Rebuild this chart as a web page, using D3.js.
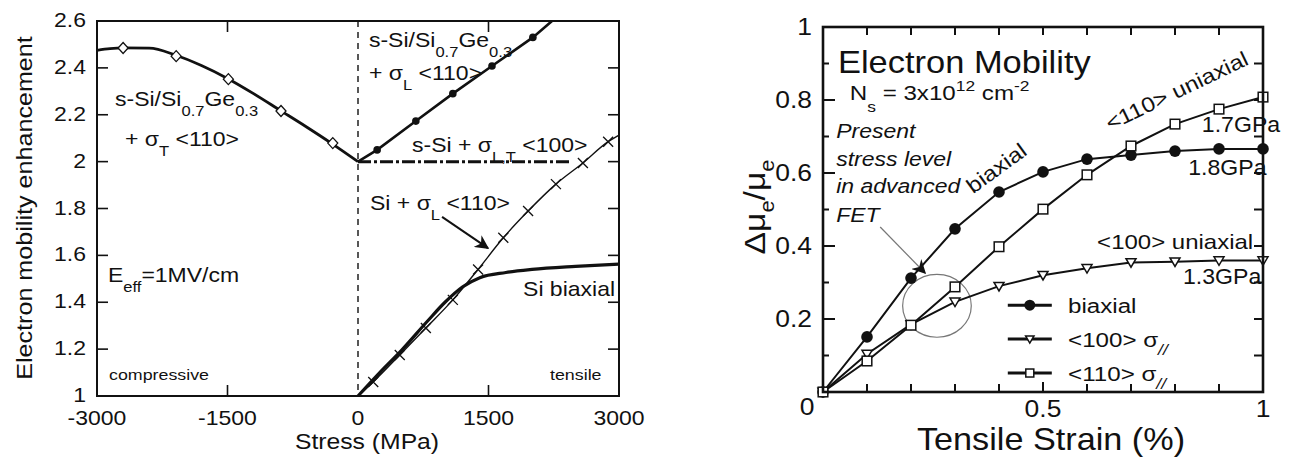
<!DOCTYPE html>
<html><head><meta charset="utf-8">
<script src="https://cdn.jsdelivr.net/npm/d3@7"></script>
<style>
body{margin:0;background:#fff}
svg{display:block}
text{font-family:"Liberation Sans",Arial,Helvetica,sans-serif;fill:#111}
</style>
</head><body>
<svg id="c" width="1293" height="457"></svg>
<script>
// ---------------- LEFT CHART DATA ----------------
const L_xTicks = [-3000, -1500, 0, 1500, 3000];
const L_yTicks = [1, 1.2, 1.4, 1.6, 1.8, 2, 2.2, 2.4, 2.6];
// s-Si/Si0.7Ge0.3 + sigma_T <110>
const sigT_x = [-3000, -2850, -2700, -2400, -2100, -1800, -1500, -1200, -900, -600, -300, 0];
const sigT_y = [2.475, 2.482, 2.485, 2.484, 2.455, 2.41, 2.355, 2.29, 2.22, 2.15, 2.077, 2.0];
const sigT_mx = [-2700, -2090, -1490, -885, -290];
const sigT_my = [2.485, 2.45, 2.352, 2.216, 2.079];
// s-Si/Si0.7Ge0.3 + sigma_L <110>
const sigL_x = [0, 220, 665, 1090, 1540, 2010, 2230];
const sigL_y = [2.0, 2.05, 2.173, 2.29, 2.408, 2.53, 2.6];
const sigL_mx = [220, 665, 1090, 1540, 2010];
const sigL_my = [2.05, 2.173, 2.29, 2.408, 2.53];
// s-Si + sigma_L,T <100>
const sLT_x = [0, 2440];
const sLT_y = [2.0, 2.0];
// Si + sigma_L <110>
const siL_x = [0, 175, 480, 780, 1090, 1380, 1670, 1955, 2275, 2585, 2875, 3000];
const siL_y = [1, 1.06, 1.175, 1.29, 1.41, 1.54, 1.675, 1.789, 1.904, 1.994, 2.085, 2.113];
const siL_mx = [175, 480, 780, 1090, 1380, 1670, 1955, 2275, 2585, 2875];
const siL_my = [1.06, 1.175, 1.29, 1.41, 1.54, 1.675, 1.789, 1.904, 1.994, 2.085];
// Si biaxial
const siB_x = [0, 250, 500, 800, 1000, 1200, 1400, 1700, 2000, 2500, 3000];
const siB_y = [1, 1.1, 1.195, 1.32, 1.4, 1.465, 1.505, 1.527, 1.54, 1.553, 1.563];

// ---------------- RIGHT CHART DATA ----------------
const R_x = [0, 0.1, 0.2, 0.3, 0.4, 0.5, 0.6, 0.7, 0.8, 0.9, 1.0];
const R_biaxial = [0, 0.151, 0.312, 0.447, 0.548, 0.603, 0.638, 0.649, 0.66, 0.666, 0.666];
const R_u100 = [0, 0.104, 0.185, 0.247, 0.29, 0.32, 0.339, 0.355, 0.357, 0.36, 0.36];
const R_u110 = [0, 0.085, 0.183, 0.288, 0.398, 0.501, 0.595, 0.674, 0.734, 0.775, 0.808];
const R_xTickLabels = [0, 0.5, 1];
const R_yTickLabels = [0, 0.2, 0.4, 0.6, 0.8, 1];
const R_minorTicks = [0, 0.1, 0.2, 0.3, 0.4, 0.5, 0.6, 0.7, 0.8, 0.9, 1.0];

const SX = 1.15;
const svg = d3.select('#c');

function rich(g, x, y, segs, o) {
  const t = g.append('text')
    .attr('transform', `translate(${x},${y}) rotate(${o.rot || 0}) scale(${o.sx || SX},1)`)
    .attr('font-size', o.fs)
    .attr('text-anchor', o.anchor || 'start')
    .attr('font-style', o.it ? 'italic' : null);
  let cur = 0;
  segs.forEach(s => {
    if (typeof s === 'string') s = {t: s};
    const fs = (s.sub || s.sup) ? o.fs * (s.scale || 0.72) : o.fs;
    const target = s.sub ? o.fs * (s.dy || 0.5) : s.sup ? -o.fs * (s.dy || 0.45) : 0;
    t.append('tspan').attr('font-size', fs).attr('dy', target - cur)
      .attr('font-style', s.it ? 'italic' : null).text(s.t);
    cur = target;
  });
  return t;
}

svg.append('defs').append('marker').attr('id', 'arr')
  .attr('viewBox', '0 0 10 10').attr('refX', 9).attr('refY', 5)
  .attr('markerWidth', 14).attr('markerHeight', 14).attr('markerUnits', 'userSpaceOnUse')
  .attr('orient', 'auto')
  .append('path').attr('d', 'M0,0L10,5L0,10L3,5Z').attr('fill', '#111');

// ================= LEFT CHART =================
{
  const x = d3.scaleLinear().domain([-3000, 3000]).range([97, 619]);
  const y = d3.scaleLinear().domain([1, 2.6]).range([396, 21]);
  const g = svg.append('g');
  const line = (xs, ys) => d3.line().x((d, i) => x(xs[i])).y((d, i) => y(ys[i]))(xs);
  const sm = (xs, ys) => d3.line().curve(d3.curveMonotoneX).x((d, i) => x(xs[i])).y((d, i) => y(ys[i]))(xs);

  // ticks (inward)
  const tk = g.append('g').attr('stroke', '#111').attr('stroke-width', 1.6);
  L_yTicks.slice(1, -1).forEach(v => {
    tk.append('line').attr('x1', x(-3000)).attr('x2', x(-3000) + 11).attr('y1', y(v)).attr('y2', y(v));
    tk.append('line').attr('x1', x(3000)).attr('x2', x(3000) - 11).attr('y1', y(v)).attr('y2', y(v));
  });
  [-1500, 1500].forEach(v => {
    tk.append('line').attr('x1', x(v)).attr('x2', x(v)).attr('y1', y(1)).attr('y2', y(1) - 11);
    tk.append('line').attr('x1', x(v)).attr('x2', x(v)).attr('y1', y(2.6)).attr('y2', y(2.6) + 11);
  });
  // dashed zero line
  g.append('line').attr('x1', x(0)).attr('x2', x(0)).attr('y1', y(2.6)).attr('y2', y(1))
    .attr('stroke', '#111').attr('stroke-width', 1.4).attr('stroke-dasharray', '6,5');

  // series
  g.append('path').attr('d', sm(siB_x, siB_y)).attr('fill', 'none').attr('stroke', '#111').attr('stroke-width', 3.2);
  g.append('path').attr('d', sm(siL_x, siL_y)).attr('fill', 'none').attr('stroke', '#111').attr('stroke-width', 1.4);
  g.append('path').attr('d', sm(sigT_x, sigT_y)).attr('fill', 'none').attr('stroke', '#111').attr('stroke-width', 2.8);
  g.append('path').attr('d', line(sigL_x, sigL_y)).attr('fill', 'none').attr('stroke', '#111').attr('stroke-width', 2.6);
  g.append('path').attr('d', line(sLT_x, sLT_y)).attr('fill', 'none').attr('stroke', '#111').attr('stroke-width', 3)
    .attr('stroke-dasharray', '13,3,3,3');

  // markers
  sigT_mx.forEach((v, i) => {
    g.append('path').attr('transform', `translate(${x(v)},${y(sigT_my[i])})`)
      .attr('d', 'M0,-5.5L5,0L0,5.5L-5,0Z').attr('fill', '#fff').attr('stroke', '#111').attr('stroke-width', 1.3);
  });
  sigL_mx.forEach((v, i) => {
    g.append('circle').attr('cx', x(v)).attr('cy', y(sigL_my[i])).attr('r', 3.8).attr('fill', '#111');
  });
  siL_mx.forEach((v, i) => {
    g.append('path').attr('transform', `translate(${x(v)},${y(siL_my[i])})`)
      .attr('d', 'M-5,-5L5,5M-5,5L5,-5').attr('stroke', '#111').attr('stroke-width', 1.3);
  });

  // frame
  g.append('rect').attr('x', x(-3000)).attr('y', y(2.6)).attr('width', x(3000) - x(-3000)).attr('height', y(1) - y(2.6))
    .attr('fill', 'none').attr('stroke', '#111').attr('stroke-width', 2);

  // tick labels
  L_xTicks.forEach(v => rich(g, x(v), 425, [String(v)], {fs: 20, anchor: 'middle'}));
  L_yTicks.forEach(v => rich(g, 86, y(v) + 6, [String(+v.toFixed(1))], {fs: 20, anchor: 'end'}));

  // axis titles
  rich(g, 32, 208, ['Electron mobility enhancement'], {fs: 21.5, anchor: 'middle', rot: -90, sx: 1.17});
  rich(g, 367, 449, ['Stress (MPa)'], {fs: 21.5, anchor: 'middle', sx: 1.15});

  // annotations
  rich(g, x(-2793), y(2.237), ['s-Si/Si', {t: '0.7', sub: 1}, 'Ge', {t: '0.3', sub: 1}], {fs: 20});
  rich(g, x(-2678), y(2.067), ['+ σ', {t: 'T', sub: 1}, ' <110>'], {fs: 20});
  rich(g, x(126), y(2.489), ['s-Si/Si', {t: '0.7', sub: 1}, 'Ge', {t: '0.3', sub: 1}], {fs: 20});
  rich(g, x(126), y(2.348), ['+ σ', {t: 'L', sub: 1}, ' <110>'], {fs: 20});
  rich(g, x(621), y(2.041), ['s-Si + σ', {t: 'L,T', sub: 1}, ' <100>'], {fs: 20});
  rich(g, x(138), y(1.794), ['Si + σ', {t: 'L', sub: 1}, ' <110>'], {fs: 20});
  rich(g, x(1897), y(1.427), ['Si biaxial'], {fs: 20});
  rich(g, x(-2874), y(1.486), ['E', {t: 'eff', sub: 1}, '=1MV/cm'], {fs: 20});
  rich(g, x(-2862), y(1.068), ['compressive'], {fs: 15.5});
  rich(g, x(2207), y(1.068), ['tensile'], {fs: 15.5});
  g.append('line').attr('x1', x(966)).attr('y1', y(1.764)).attr('x2', x(1494)).attr('y2', y(1.631))
    .attr('stroke', '#111').attr('stroke-width', 2).attr('marker-end', 'url(#arr)');
}

// ================= RIGHT CHART =================
{
  const x = d3.scaleLinear().domain([0, 1]).range([823, 1263]);
  const y = d3.scaleLinear().domain([0, 1]).range([392, 27]);
  const g = svg.append('g');
  const ln = ys => d3.line().x((d, i) => x(R_x[i])).y((d, i) => y(ys[i]))(R_x);

  const tk = g.append('g').attr('stroke', '#111').attr('stroke-width', 2);
  R_minorTicks.slice(1, -1).forEach((v, i) => {
    const major = (i % 2) === 1;
    tk.append('line').attr('x1', x(0)).attr('x2', x(0) + (major ? 12 : 6)).attr('y1', y(v)).attr('y2', y(v));
    tk.append('line').attr('x1', x(1)).attr('x2', x(1) - 9).attr('y1', y(v)).attr('y2', y(v));
    tk.append('line').attr('x1', x(v)).attr('x2', x(v)).attr('y1', y(0)).attr('y2', y(0) - (i === 4 ? 10 : 8));
    tk.append('line').attr('x1', x(v)).attr('x2', x(v)).attr('y1', y(1)).attr('y2', y(1) + 8);
  });

  // ellipse + pointer
  g.append('ellipse').attr('cx', x(0.259)).attr('cy', y(0.236))
    .attr('rx', x(0.078) - x(0)).attr('ry', y(0) - y(0.086))
    .attr('fill', 'none').attr('stroke', '#777').attr('stroke-width', 1.2);
  g.append('line').attr('x1', x(0.13)).attr('y1', y(0.452)).attr('x2', x(0.232)).attr('y2', y(0.326))
    .attr('stroke', '#777').attr('stroke-width', 1.2).attr('marker-end', 'url(#arr)');

  // lines
  [R_biaxial, R_u100, R_u110].forEach(s => {
    g.append('path').attr('d', ln(s)).attr('fill', 'none').attr('stroke', '#111').attr('stroke-width', 2);
  });
  const circ = (gg, cx, cy, r) => gg.append('circle').attr('cx', cx).attr('cy', cy).attr('r', r).attr('fill', '#111');
  const tri = (gg, cx, cy, s) => gg.append('path').attr('transform', `translate(${cx},${cy})`)
    .attr('d', `M${-s},${-s * 0.75}L${s},${-s * 0.75}L0,${s * 0.95}Z`).attr('fill', '#fff').attr('stroke', '#111').attr('stroke-width', 1.5);
  const sq = (gg, cx, cy, s) => gg.append('rect').attr('x', cx - s).attr('y', cy - s).attr('width', 2 * s).attr('height', 2 * s)
    .attr('fill', '#fff').attr('stroke', '#111').attr('stroke-width', 1.5);
  R_x.forEach((v, i) => circ(g, x(v), y(R_biaxial[i]), 5.8));
  R_x.forEach((v, i) => tri(g, x(v), y(R_u100[i]), 5));
  R_x.forEach((v, i) => sq(g, x(v), y(R_u110[i]), 4.8));

  // frame
  g.append('rect').attr('x', x(0)).attr('y', y(1)).attr('width', x(1) - x(0)).attr('height', y(0) - y(1))
    .attr('fill', 'none').attr('stroke', '#111').attr('stroke-width', 2.6);

  // tick labels
  R_yTickLabels.forEach(v => { if (v !== 0) rich(g, 812, y(v) + 8, [String(v)], {fs: 23, anchor: 'end'}); });
  rich(g, 807, 415, ['0'], {fs: 23, anchor: 'middle'});
  R_xTickLabels.forEach(v => { if (v !== 0) rich(g, x(v), 417, [String(v)], {fs: 23, anchor: 'middle'}); });

  // axis titles
  rich(g, 1051, 450, ['Tensile Strain (%)'], {fs: 32, anchor: 'middle', sx: 1.07});
  rich(g, 765, 207, ['Δμ', {t: 'e', sub: 1, dy: 0.3, scale: 0.65}, {t: '/μ', dy: 0}, {t: 'e', sub: 1, dy: 0.3, scale: 0.65}],
    {fs: 30, anchor: 'middle', rot: -90, sx: 1.12});

  // annotations
  rich(g, x(0.034), y(0.874), ['Electron Mobility'], {fs: 30.5, sx: 1.13});
  rich(g, x(0.061), y(0.8), ['N', {t: 's', sub: 1, dy: 0.55}, ' = 3x10', {t: '12', sup: 1, dy: 0.42}, ' cm', {t: '-2', sup: 1, dy: 0.42}], {fs: 21});
  ['Present', 'stress level', 'in advanced', 'FET'].forEach((s, i) =>
    rich(g, x(0.03), y([0.696, 0.619, 0.545, 0.466][i]), [s], {fs: 19.5, it: true, sx: 1.18}));
  rich(g, x(0.341), y(0.542), ['biaxial'], {fs: 21, rot: -36});
  rich(g, x(0.652), y(0.715), ['<110> uniaxial'], {fs: 21, rot: -25.6});
  rich(g, x(0.861), y(0.712), ['1.7GPa'], {fs: 22, sx: 1.05});
  rich(g, x(0.83), y(0.595), ['1.8GPa'], {fs: 22, sx: 1.05});
  rich(g, x(0.623), y(0.392), ['<100> uniaxial'], {fs: 20, sx: 1.2});
  rich(g, x(0.818), y(0.296), ['1.3GPa'], {fs: 22, sx: 1.05});

  // legend
  const legY = [0.238, 0.145, 0.052];
  const legT = [['biaxial'], ['<100> σ', {t: '//', sub: 1, dy: 0.4, it: 1}], ['<110> σ', {t: '//', sub: 1, dy: 0.4, it: 1}]];
  legY.forEach((v, i) => {
    g.append('line').attr('x1', x(0.42)).attr('x2', x(0.52)).attr('y1', y(v)).attr('y2', y(v))
      .attr('stroke', '#111').attr('stroke-width', 3);
    if (i === 0) circ(g, x(0.47), y(v), 5.5);
    if (i === 1) tri(g, x(0.47), y(v), 4.2);
    if (i === 2) sq(g, x(0.47), y(v), 4);
    rich(g, x(0.557), y(v) + 8, legT[i], {fs: 21});
  });
}
</script>
</body></html>
